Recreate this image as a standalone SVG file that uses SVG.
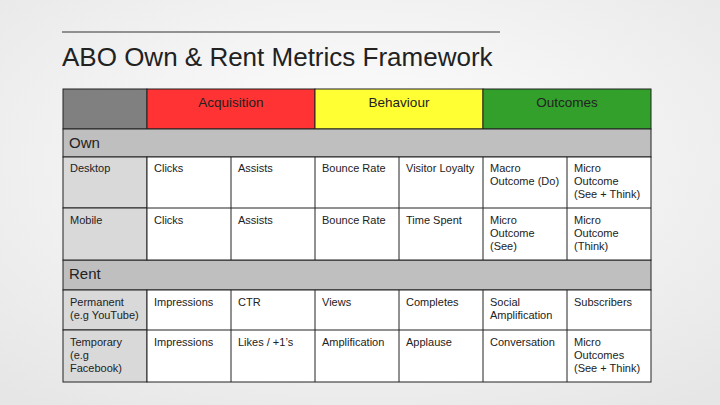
<svg xmlns="http://www.w3.org/2000/svg" width="720" height="405" viewBox="0 0 720 405">
<defs>
<radialGradient id="bg" cx="50%" cy="40%" r="75%"><stop offset="0" stop-color="#ffffff"/><stop offset="1" stop-color="#e6e6e6"/></radialGradient>
<style>
.c{stroke:#222;stroke-width:1}
text{font-family:"Liberation Sans",Arial,sans-serif;fill:#222}
.s{font-size:11px}
.h{font-size:13.5px;text-anchor:middle}
.sec{font-size:15px}
</style>
</defs>
<rect width="720" height="405" fill="url(#bg)"/>
<line x1="62" y1="32" x2="500" y2="32" stroke="#333" stroke-width="1"/>
<text x="62" y="66" font-size="26" fill="#333" style="font-weight:300">ABO Own &amp; Rent Metrics Framework</text>
<g id="header">
<rect class="c" x="63" y="89" width="84" height="40" fill="#808080"/>
<rect class="c" x="147" y="89" width="168" height="40" fill="#ff3333"/>
<rect class="c" x="315" y="89" width="168" height="40" fill="#ffff33"/>
<rect class="c" x="483" y="89" width="168" height="40" fill="#33a02c"/>
<text class="h" x="231" y="107">Acquisition</text>
<text class="h" x="399" y="107">Behaviour</text>
<text class="h" x="567" y="107">Outcomes</text>
</g>
<g id="own">
<rect class="c" x="63" y="129" width="588" height="28" fill="#bfbfbf"/>
<text class="sec" x="69" y="148">Own</text>
</g>
<g id="rent">
<rect class="c" x="63" y="260" width="588" height="30" fill="#bfbfbf"/>
<text class="sec" x="69" y="279">Rent</text>
</g>
<g id="cells" class="c">
<rect x="63" y="157" width="84" height="51" fill="#d9d9d9"/>
<rect x="63" y="208" width="84" height="52" fill="#d9d9d9"/>
<rect x="63" y="290" width="84" height="40" fill="#d9d9d9"/>
<rect x="63" y="330" width="84" height="52" fill="#d9d9d9"/>
<rect x="147" y="157" width="504" height="103" fill="#fff"/>
<rect x="147" y="290" width="504" height="92" fill="#fff"/>
<path d="M147 208H651M147 330H651M231 157V260M315 157V260M399 157V260M483 157V260M567 157V260M231 290V382M315 290V382M399 290V382M483 290V382M567 290V382" fill="none"/>
</g>
<g id="text" class="s">
<text x="70" y="172">Desktop</text><text x="154" y="172">Clicks</text><text x="238" y="172">Assists</text><text x="322" y="172">Bounce Rate</text><text x="406" y="172">Visitor Loyalty</text>
<text x="490" y="172">Macro<tspan x="490" dy="13">Outcome (Do)</tspan></text>
<text x="574" y="172">Micro<tspan x="574" dy="13">Outcome</tspan><tspan x="574" dy="13">(See + Think)</tspan></text>
<text x="70" y="224">Mobile</text><text x="154" y="224">Clicks</text><text x="238" y="224">Assists</text><text x="322" y="224">Bounce Rate</text><text x="406" y="224">Time Spent</text>
<text x="490" y="224">Micro<tspan x="490" dy="13">Outcome</tspan><tspan x="490" dy="13">(See)</tspan></text>
<text x="574" y="224">Micro<tspan x="574" dy="13">Outcome</tspan><tspan x="574" dy="13">(Think)</tspan></text>
<text x="70" y="306">Permanent<tspan x="70" dy="13">(e.g YouTube)</tspan></text>
<text x="154" y="306">Impressions</text><text x="238" y="306">CTR</text><text x="322" y="306">Views</text><text x="406" y="306">Completes</text>
<text x="490" y="306">Social<tspan x="490" dy="13">Amplification</tspan></text>
<text x="574" y="306">Subscribers</text>
<text x="70" y="346">Temporary<tspan x="70" dy="13">(e.g</tspan><tspan x="70" dy="13">Facebook)</tspan></text>
<text x="154" y="346">Impressions</text><text x="238" y="346">Likes / +1’s</text><text x="322" y="346">Amplification</text><text x="406" y="346">Applause</text><text x="490" y="346">Conversation</text>
<text x="574" y="346">Micro<tspan x="574" dy="13">Outcomes</tspan><tspan x="574" dy="13">(See + Think)</tspan></text>
</g>
</svg>
